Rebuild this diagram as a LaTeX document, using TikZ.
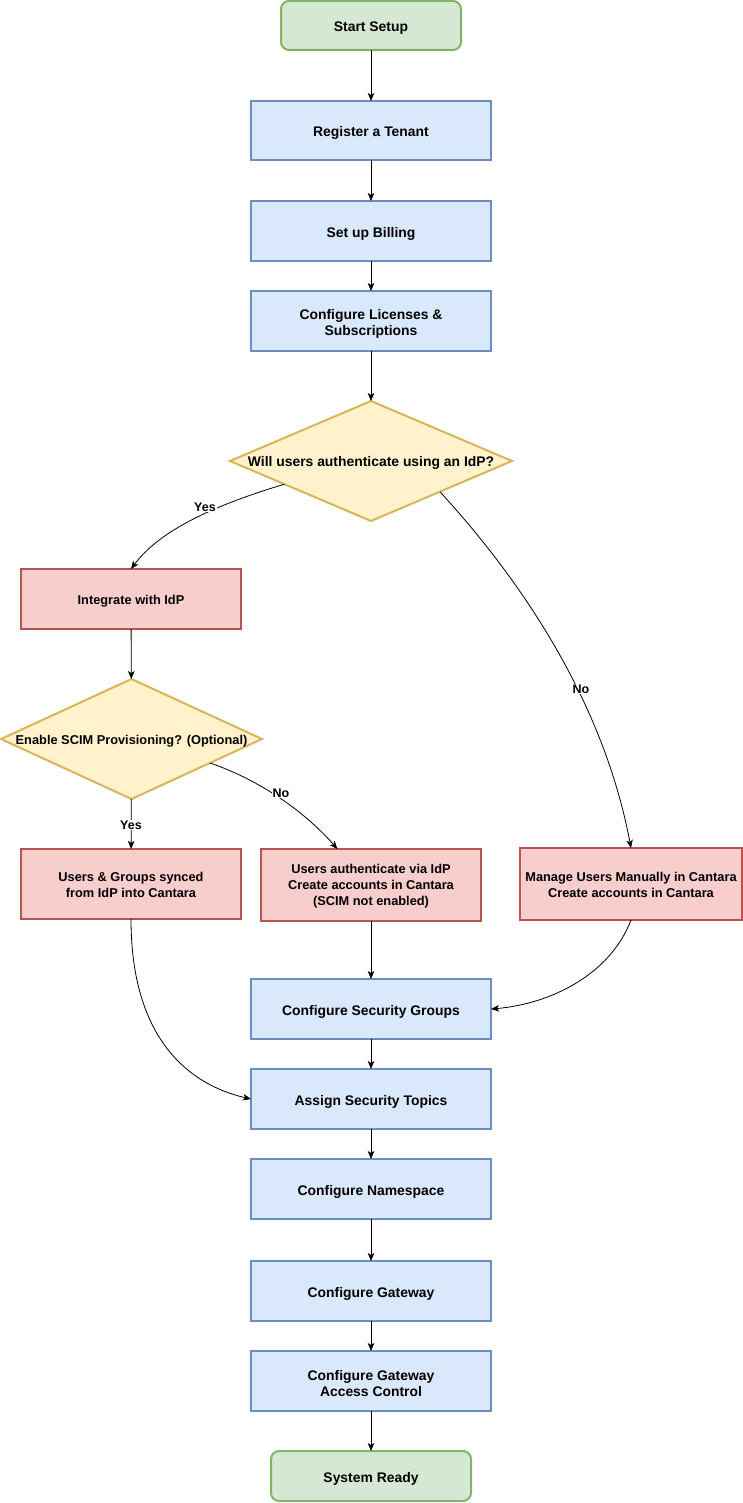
\documentclass[tikz,border=0pt]{standalone}
\usepackage{fontspec}
\setmainfont{Liberation Sans}
\usetikzlibrary{shapes.geometric,arrows.meta}
\definecolor{bluef}{HTML}{DAE8FC}\definecolor{blued}{HTML}{6C8EBF}
\definecolor{greenf}{HTML}{D5E8D4}\definecolor{greend}{HTML}{82B366}
\definecolor{redf}{HTML}{F8CECC}\definecolor{redd}{HTML}{B85450}
\definecolor{yelf}{HTML}{FFF2CC}\definecolor{yeld}{HTML}{D6B656}
\tikzset{
  base/.style={draw, line width=2pt, minimum width=240pt, minimum height=60pt, inner sep=0pt, outer sep=0pt},
  bigtext/.style={align=center, inner sep=0pt, yshift=-2.5pt, font=\bfseries\fontsize{13.9}{16}\selectfont},
  smalltext/.style={align=center, inner sep=0pt, yshift=-1.2pt, font=\bfseries\fontsize{12.8}{15.8}\selectfont},
  bluebox/.style={base, fill=bluef, draw=blued},
  redbox/.style={base, fill=redf, draw=redd, minimum width=220pt, minimum height=72pt},
  greenbox/.style={base, fill=greenf, draw=greend, rounded corners=8pt, minimum height=50pt},
  dia/.style={diamond, draw=yeld, fill=yelf, line width=2pt, inner sep=0pt, outer sep=0pt},
  arr/.style={line width=0.8pt, -{Stealth[length=8pt,width=6.5pt,inset=2pt]}},
  lbl/.style={fill=white, inner sep=1pt, font=\bfseries\fontsize{12.5}{14}\selectfont}
}
\begin{document}
\begin{tikzpicture}[x=1pt,y=-1pt]
\useasboundingbox (0,0) rectangle (743,1503);
\node[greenbox, minimum width=180pt, minimum height=49pt, label={[bigtext]center:Start Setup}] (start) at (371,25.5) {};
\node[bluebox, minimum height=59pt, label={[bigtext]center:Register a Tenant}] (reg) at (371,130.5) {};
\node[bluebox, label={[bigtext]center:Set up Billing}] (bill) at (371,231) {};
\node[bluebox, label={[bigtext]center:{Configure Licenses \&\\Subscriptions}}] (lic) at (371,321) {};
\node[dia, minimum width=282pt, minimum height=120pt, label={[bigtext, yshift=0.5pt]center:Will users authenticate using an IdP?}] (d1) at (371,461) {};
\node[redbox, minimum height=60pt, label={[smalltext, yshift=-1pt]center:Integrate with IdP}] (integ) at (131,599) {};
\node[dia, minimum width=261pt, minimum height=120pt, label={[smalltext, yshift=-0.8pt]center:Enable SCIM Provisioning? (Optional)}] (d2) at (131.5,739) {};
\node[redbox, minimum height=70pt, label={[smalltext]center:{Users \& Groups synced\\from IdP into Cantara}}] (ug) at (131,884) {};
\node[redbox, label={[smalltext]center:{Users authenticate via IdP\\Create accounts in Cantara\\(SCIM not enabled)}}] (auth) at (371,885) {};
\node[redbox, minimum width=222pt, label={[smalltext]center:{Manage Users Manually in Cantara\\Create accounts in Cantara}}] (man) at (631,884) {};
\node[bluebox, label={[bigtext]center:Configure Security Groups}] (csg) at (371,1009) {};
\node[bluebox, label={[bigtext]center:Assign Security Topics}] (ast) at (371,1099) {};
\node[bluebox, label={[bigtext]center:Configure Namespace}] (ns) at (371,1189) {};
\node[bluebox, label={[bigtext]center:Configure Gateway}] (gw) at (371,1291) {};
\node[bluebox, label={[bigtext]center:{Configure Gateway\\Access Control}}] (gwac) at (371,1381) {};
\node[greenbox, minimum width=200pt, label={[bigtext]center:System Ready}] (ready) at (371,1476) {};

\draw[arr] (start) -- (reg);
\draw[arr] (reg) -- (bill);
\draw[arr] (bill) -- (lic);
\draw[arr] (lic) -- (d1);
\draw[arr] (d1.195) .. controls (215,505) and (160,530) .. (integ.north);
\draw[arr] (d1.336.5) .. controls (530,590) and (605,710) .. (man.north);
\draw[arr] (integ) -- (d2);
\draw[arr] (d2) -- (ug);
\draw[arr] (d2.343.1) .. controls (260,780) and (305,812) .. (auth.133.4);
\draw[arr] (ug.south) .. controls (131,1040) and (190,1085) .. (ast.west);
\draw[arr] (auth) -- (csg);
\draw[arr] (man.south) .. controls (610,975) and (550,1004) .. (csg.east);
\draw[arr] (csg) -- (ast);
\draw[arr] (ast) -- (ns);
\draw[arr] (ns) -- (gw);
\draw[arr] (gw) -- (gwac);
\draw[arr] (gwac) -- (ready);

\node[lbl] (l1) at (205,507) {Yes};
\node[lbl] (l2) at (581,689) {No};
\node[lbl] (l3) at (281,793) {No};
\node[lbl] (l4) at (131,825) {Yes};
\end{tikzpicture}
\end{document}
